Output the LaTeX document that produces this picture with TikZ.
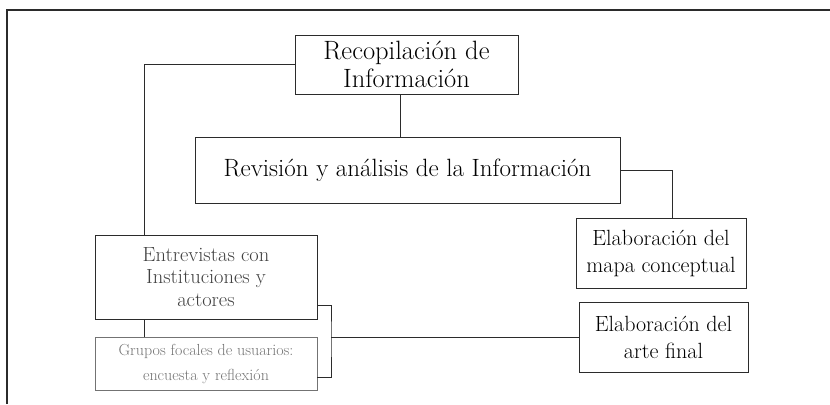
\documentclass[tikz,border=0pt]{standalone}
\usepackage{xcolor}
\usepackage{tikz}
\usetikzlibrary{calc}
\definecolor{xline}{HTML}{2B2B2B}
\tikzset{
  %% Styles %%
  box/.style = {draw=xline, line width=0.8bp, align=center, inner sep=0pt},
  bigbox/.style = {box, font=\fontsize{26.5bp}{28bp}\selectfont},
  midbox/.style = {box, font=\fontsize{22bp}{27bp}\selectfont},
  smallbox/.style = {box, text=black!75, font=\fontsize{20.5bp}{22.5bp}\selectfont},
  fadedbox/.style = {box, draw=black!55, text=black!55, font=\fontsize{16bp}{25bp}\selectfont},
  link/.style = {draw=xline, line width=0.8bp},
  frameline/.style = {draw=xline, line width=1.4bp}
}
\begin{document}
\begin{tikzpicture}[x=1bp, y=-1bp]
            \useasboundingbox (0,0) rectangle (830,404);
            \draw[frameline] (7,404) -- (7,10) -- (830,10);
            % Boxes
            \node[bigbox, minimum width=223bp, minimum height=59bp] (recop) at (406.5,64.5) {Recopilación de\\Información};
            \node[bigbox, font=\fontsize{25bp}{28bp}\selectfont, minimum width=425bp, minimum height=66bp] (revision) at (407.5,170) {Revisión y análisis de la Información};
            \node[midbox, minimum width=170bp, minimum height=70bp] (mapa) at (661,253) {Elaboración del\\mapa conceptual};
            \node[midbox, minimum width=169bp, minimum height=70bp] (arte) at (663.5,337) {Elaboración del\\arte final};
            \node[smallbox, minimum width=222bp, minimum height=84bp] (entrev) at (206,277) {Entrevistas con\\Instituciones y\\actores};
            \node[fadedbox, minimum width=222bp, minimum height=53bp] (grupos) at (206,363.5) {Grupos focales de usuarios:\\encuesta y reflexión};
            % Connectors
            \draw[link] (recop.west) -| ([xshift=-62bp]entrev.north);
            \draw[link] ([xshift=-6.5bp]recop.south) -- ([xshift=-6.5bp]recop.south |- revision.north);
            \draw[link] (revision.east) -| ([xshift=11bp]mapa.north);
            \draw[link] ([xshift=-62bp]entrev.south) -- ([xshift=-62bp]entrev.south |- grupos.north);
            \coordinate (br) at (331,337);
            \draw[link] ([yshift=14bp]entrev.south east) -| (br) |- ([yshift=13bp]grupos.south east);
            \draw[link] (br) -- (arte.west);
        \end{tikzpicture}
\end{document}
